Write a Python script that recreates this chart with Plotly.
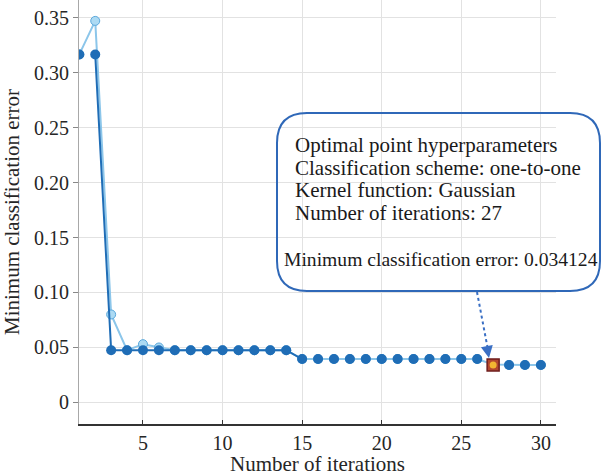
import plotly.graph_objects as go

iterations = list(range(1, 31))
observed_min = [0.3165, 0.3165] + [0.0475] * 12 + [0.0395] * 12 + [0.034124, 0.0341, 0.0341, 0.0341]
estimated_min = [0.3165, 0.347, 0.080, 0.0475, 0.053, 0.050] + [0.0475] * 8 + [0.0395] * 12 + [0.0345, 0.0341, 0.0341, 0.0341]
best_iter = 27
best_error = 0.034124
x_ticks = [5, 10, 15, 20, 25, 30]
y_ticks = [0, 0.05, 0.10, 0.15, 0.20, 0.25, 0.30, 0.35]
y_tick_text = ["0", "0.05", "0.10", "0.15", "0.20", "0.25", "0.30", "0.35"]
box_lines = ["Optimal point hyperparameters",
             "Classification scheme: one-to-one",
             "Kernel function: Gaussian",
             "Number of iterations: 27"]
last_line = "Minimum classification error: 0.034124"

DARK = "#1f6db6"
LIGHT = "#8cc6ea"
SERIF = "Liberation Serif"

fig = go.Figure()
# estimated min (light)
fig.add_trace(go.Scatter(x=iterations, y=estimated_min, mode="lines+markers",
                         line=dict(color=LIGHT, width=2),
                         marker=dict(size=9, color="#acdaf3", line=dict(color="#5aa8dc", width=1)),
                         showlegend=False, hoverinfo="skip"))
# observed min line (first part)
fig.add_trace(go.Scatter(x=iterations[1:15], y=observed_min[1:15], mode="lines",
                         line=dict(color=DARK, width=2), showlegend=False))
# observed markers
fig.add_trace(go.Scatter(x=iterations, y=observed_min, mode="markers",
                         marker=dict(size=10, color=DARK), showlegend=False))
# best point
fig.add_trace(go.Scatter(x=[best_iter], y=[best_error], mode="markers",
                         marker=dict(symbol="square", size=12, color="#b4472e",
                                     line=dict(color="#6e1c1c", width=1.5)),
                         showlegend=False))
fig.add_trace(go.Scatter(x=[best_iter], y=[best_error], mode="markers",
                         marker=dict(size=7, color="#f3b531"), showlegend=False))

L, R, T, B = 79, 46, 0, 52
W, H = 602, 476
pw, ph = W - L - R, H - T - B

def px(x):
    return (x - L) / pw

def py(y):
    return (H - B - y) / ph

# rounded annotation box
x0, x1, y0, y1 = px(277), px(600), py(291), py(113)
rx, ry = 30 / pw, 30 / ph
path = (f"M {x0+rx},{y1} L {x1-rx},{y1} Q {x1},{y1} {x1},{y1-ry} "
        f"L {x1},{y0+ry} Q {x1},{y0} {x1-rx},{y0} L {x0+rx},{y0} "
        f"Q {x0},{y0} {x0},{y0+ry} L {x0},{y1-ry} Q {x0},{y1} {x0+rx},{y1} Z")
fig.add_shape(type="path", path=path, xref="paper", yref="paper",
              line=dict(color="#2f68b8", width=2), fillcolor="rgba(0,0,0,0)")

# dotted arrow
fig.add_shape(type="line", xref="paper", yref="paper",
              x0=px(477), y0=py(292), x1=px(488), y1=py(350),
              line=dict(color="#3a6fc4", width=2, dash="dot"))
fig.add_annotation(xref="paper", yref="paper", x=px(489), y=py(358), text="",
                   showarrow=True, arrowhead=2, arrowsize=1.2, arrowwidth=2,
                   arrowcolor="#3a6fc4", axref="pixel", ayref="pixel", ax=-2, ay=-11)

for i, line in enumerate(box_lines):
    fig.add_annotation(xref="paper", yref="paper", x=px(293), y=py(145 + 22.7 * i),
                       text=line, showarrow=False, xanchor="left", yanchor="middle",
                       font=dict(family=SERIF, size=21, color="#1a1a1a"))
fig.add_annotation(xref="paper", yref="paper", x=px(282), y=py(259),
                   text=last_line, showarrow=False, xanchor="left", yanchor="middle",
                   font=dict(family=SERIF, size=19.6, color="#1a1a1a"))

fig.update_layout(
    width=W, height=H, margin=dict(l=L, r=R, t=T, b=B),
    paper_bgcolor="white", plot_bgcolor="white",
    font=dict(family=SERIF, size=20, color="#262626"),
)
fig.update_xaxes(range=[0.98, 30.95], tickvals=x_ticks, showgrid=True, gridcolor="#e2e2e2",
                 gridwidth=1, zeroline=False, showline=True, linecolor="#333333", linewidth=1.5,
                 ticks="inside", ticklen=4, tickcolor="#333333",
                 title=dict(text="Number of iterations", font=dict(family=SERIF, size=21), standoff=0),
                 tickfont=dict(family=SERIF, size=20))
fig.update_yaxes(range=[-0.0196, 0.366], tickvals=y_ticks, ticktext=y_tick_text,
                 showgrid=True, gridcolor="#e2e2e2", gridwidth=1, zeroline=False,
                 showline=True, linecolor="#a8a8a8", linewidth=1,
                 ticks="outside", ticklen=5, tickcolor="#888888",
                 title=dict(text="Minimum classification error", font=dict(family=SERIF, size=21), standoff=8),
                 tickfont=dict(family=SERIF, size=20))

fig.write_html("out.html")
